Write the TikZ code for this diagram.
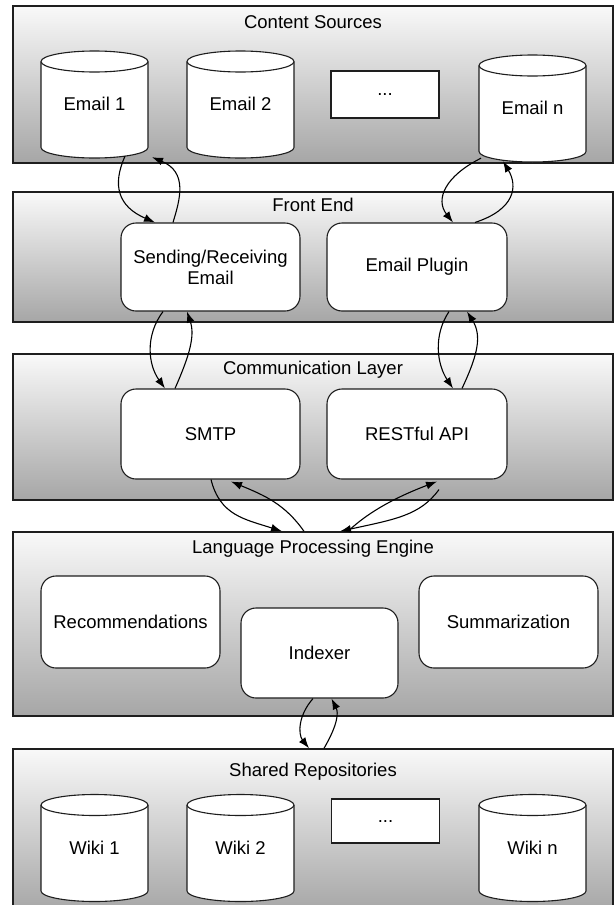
\documentclass[tikz,border=0pt]{standalone}
\usepackage{fontspec}
\setmainfont{Liberation Sans}
\usetikzlibrary{calc,arrows.meta}
\definecolor{gtop}{RGB}{249,249,249}
\definecolor{gbot}{RGB}{166,166,166}
\definecolor{edge}{RGB}{30,30,30}
\newcommand{\fs}{\fontsize{18.5}{21}\selectfont}
\begin{document}
\begin{tikzpicture}[x=1pt,y=-1pt,
  layer/.style={draw=edge, line width=1.4pt, top color=gtop, bottom color=gbot,
    minimum width=600pt, inner sep=0pt},
  ltitle/.style={font=\fs, inner sep=0pt},
  rbox/.style={draw=edge, line width=1.1pt, fill=white, rounded corners=15pt,
    font=\fs, align=center, inner sep=0pt},
  dotbox/.style={draw=edge, line width=1.1pt, fill=white, font=\fs, inner sep=0pt,
    minimum width=108pt},
  cylnode/.style={minimum width=109pt, minimum height=109pt, inner sep=0pt, font=\fs,
    text depth=1pt,
    path picture={
      \draw[draw=edge, fill=white, line width=1.1pt]
        ([shift={(1pt,-11.5pt)}]path picture bounding box.north west)
        -- ([shift={(1pt,11.5pt)}]path picture bounding box.south west)
        arc[start angle=180,end angle=360,x radius=53.5pt,y radius=10.5pt]
        -- ([shift={(-1pt,-11.5pt)}]path picture bounding box.north east)
        arc[start angle=0,end angle=180,x radius=53.5pt,y radius=10.5pt] -- cycle;
      \draw[draw=edge, line width=1.1pt]
        ([shift={(1pt,-11.5pt)}]path picture bounding box.north west)
        arc[start angle=180,end angle=360,x radius=53.5pt,y radius=10.5pt];
    }},
  conn/.style={draw=black, line width=1.1pt, -{Latex[length=11pt,width=8pt]}}
]
\useasboundingbox (0,0) rectangle (615,905);

% layers
\node[layer, minimum height=157pt] (cs) at (313,84.5) {};
\node[ltitle] (cst) at (313,22) {Content Sources};
\node[layer, minimum height=130pt] (fe) at (313,257) {};
\node[ltitle] (fet) at (313,205) {Front End};
\node[layer, minimum height=146pt] (cl) at (313,427) {};
\node[ltitle] (clt) at (313,370) {Communication Layer};
\node[layer, minimum height=184pt] (lpe) at (313,624) {};
\node[ltitle] (lpet) at (313,549) {Language Processing Engine};
\node[layer, minimum height=163pt] (sh) at (313,830.5) {};
\node[ltitle] (sht) at (313,772) {Shared Repositories};

% content sources
\node[cylnode] (e1) at (94.5,104.5) {Email 1};
\node[cylnode] (e2) at (240.5,104.5) {Email 2};
\node[dotbox, minimum height=47pt] (ed) at (385,94.5) {...};
\node[cylnode] (en) at (532.5,108.5) {Email n};

% front end
\node[rbox, minimum width=179pt, minimum height=88pt] (snd) at (210.5,267) {Sending/Receiving\\Email};
\node[rbox, minimum width=180pt, minimum height=88pt] (plg) at (417,267) {Email Plugin};

% communication layer
\node[rbox, minimum width=179pt, minimum height=90pt] (smtp) at (210.5,434) {SMTP};
\node[rbox, minimum width=180pt, minimum height=90pt] (rest) at (417,434) {RESTful API};

% language processing engine
\node[rbox, minimum width=179pt, minimum height=92pt] (rec) at (130.5,622) {Recommendations};
\node[rbox, minimum width=157pt, minimum height=90pt] (idx) at (319.5,653) {Indexer};
\node[rbox, minimum width=179pt, minimum height=92pt] (sum) at (508.5,622) {Summarization};

% shared repositories
\node[cylnode] (w1) at (94.5,848) {Wiki 1};
\node[cylnode] (w2) at (240.5,848) {Wiki 2};
\node[dotbox, minimum height=44pt] (wd) at (385.5,821) {...};
\node[cylnode] (wn) at (532.5,848) {Wiki n};

% connectors
\draw[conn] ($(e1.south)+(30.5,-3)$) .. controls +(-13,29) and +(-37,-16) .. ($(snd.north)+(-55.5,0)$);
\draw[conn] ($(snd.north)+(-37.5,0)$) .. controls +(7,-23) and +(36,15) .. ($(e1.south)+(57.5,-2)$);
\draw[conn] ($(en.south)+(-51.5,-5)$) .. controls +(-36,18) and +(-18,-23) .. ($(plg.north)+(36,0)$);
\draw[conn] ($(plg.north)+(58,0)$) .. controls +(40,-13) and +(15,25) .. ($(en.south)+(-29.5,-2)$);

\draw[conn] ($(snd.south)+(-47.5,0)$) .. controls +(-18,24) and +(-17,-24) .. ($(smtp.north)+(-45.5,0)$);
\draw[conn] ($(smtp.north)+(-35.5,0)$) .. controls +(15,-34) and +(8,24) .. ($(snd.south)+(-23.5,0)$);
\draw[conn] ($(plg.south)+(32,0)$) .. controls +(-16,24) and +(-16,-24) .. ($(rest.north)+(36,0)$);
\draw[conn] ($(rest.north)+(45,0)$) .. controls +(16,-34) and +(15,24) .. ($(plg.south)+(50,0)$);

\draw[conn] ($(smtp.south)+(0.5,0)$) .. controls +(9,36) and +(-37,-12) .. ($(lpe.north)+(-31,0)$);
\draw[conn] ($(lpe.north)+(-9,0)$) .. controls +(-19,-27) and +(34,14) .. ($(smtp.south)+(20.5,2)$);
\draw[conn] ($(lpe.north)+(35,0)$) .. controls +(22,-21) and +(-37,14) .. ($(rest.south)+(20,2)$);
\draw[conn] ($(rest.south)+(22,10)$) .. controls +(-19,26) and +(55,-12) .. ($(lpe.north)+(27,0)$);

\draw[conn] ($(idx.south)+(-6.5,0)$) .. controls +(-15,17) and +(-11,-14) .. ($(sh.north)+(-4,0)$);
\draw[conn] ($(sh.north)+(11,0)$) .. controls +(14,-24) and +(7,14) .. ($(idx.south)+(12,0)$);
\end{tikzpicture}
\end{document}
